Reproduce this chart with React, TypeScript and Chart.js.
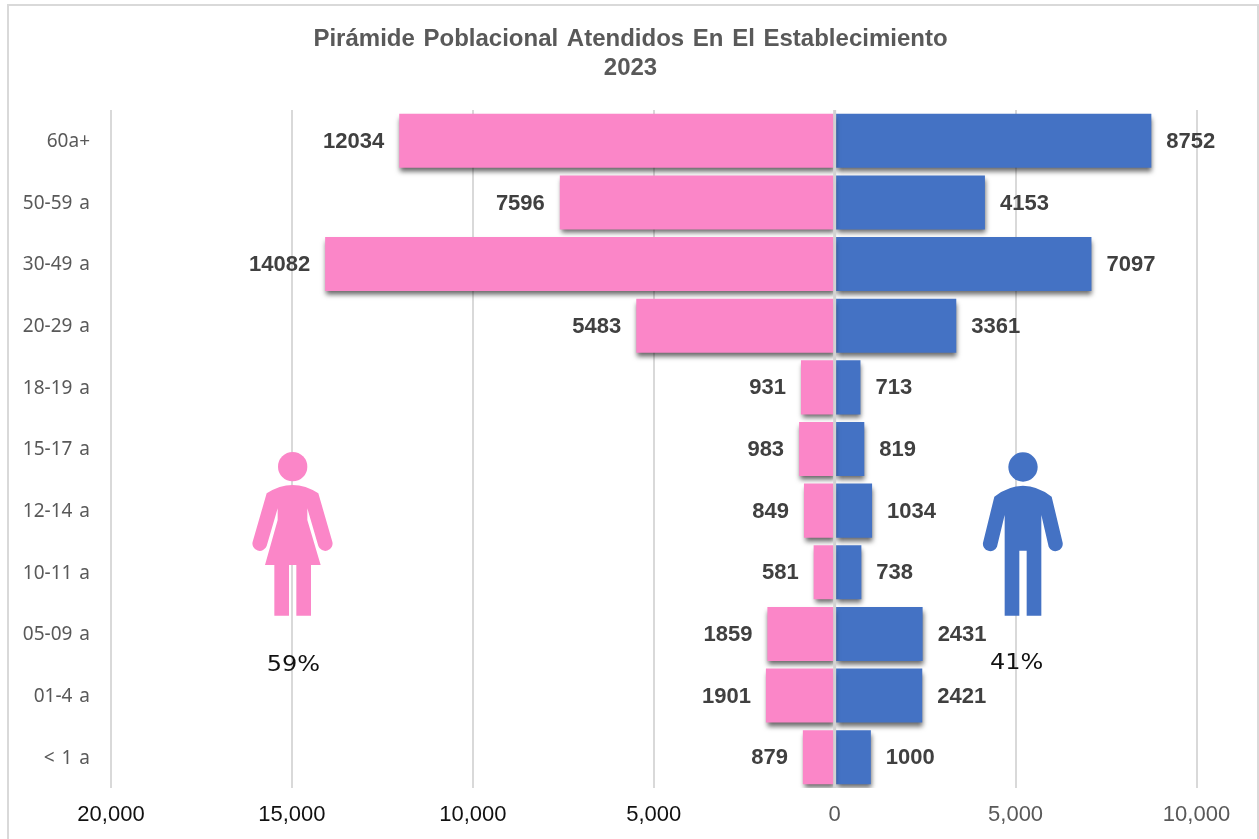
import React, { useEffect, useRef } from "react";
import { Chart, registerables } from "chart.js";

Chart.register(...registerables);

const categories = ["60a+", "50-59 a", "30-49 a", "20-29 a", "18-19 a", "15-17 a", "12-14 a", "10-11 a", "05-09 a", "01-4 a", "< 1 a"];
const mujeres = [12034, 7596, 14082, 5483, 931, 983, 849, 581, 1859, 1901, 879];
const hombres = [8752, 4153, 7097, 3361, 713, 819, 1034, 738, 2431, 2421, 1000];
const titleLines = ["Pirámide Poblacional Atendidos En El Establecimiento", "2023"];
const shareMujeres = "59%";
const shareHombres = "41%";

const PINK = "#FB86C8";
const BLUE = "#4472C4";
const GRID = "#D9D9D9";
const SANS = '"Liberation Sans", Arial, sans-serif';

const pyramidPlugin = {
  id: "pyramid",
  afterLayout(chart: any) {
    // centre the title on the whole canvas, not on the padded layout box
    if (chart.titleBlock) {
      chart.titleBlock.left = 0;
      chart.titleBlock.right = chart.width;
    }
  },
  beforeDraw(chart: any) {
    chart.ctx.wordSpacing = "2px";
  },
  beforeDatasetsDraw(chart: any) {
    const c = chart.ctx;
    c.save();
    c.shadowColor = "rgba(0,0,0,0.6)";
    c.shadowBlur = 5;
    c.shadowOffsetX = 1;
    c.shadowOffsetY = 4;
  },
  afterDatasetsDraw(chart: any) {
    const c = chart.ctx;
    c.restore();
    const { top, bottom } = chart.chartArea;
    const x0 = chart.scales.x.getPixelForValue(0);
    c.save();
    c.strokeStyle = "#D2D2D2";
    c.lineWidth = 3;
    c.beginPath();
    c.moveTo(x0, top);
    c.lineTo(x0, bottom);
    c.stroke();
    c.font = `bold 22px ${SANS}`;
    c.fillStyle = "#404040";
    c.textBaseline = "middle";
    chart.data.datasets.forEach((ds: any, di: number) => {
      const meta = chart.getDatasetMeta(di);
      const left = di === 0;
      c.textAlign = left ? "right" : "left";
      meta.data.forEach((bar: any, i: number) => {
        const raw = Math.abs(ds.data[i]);
        c.fillText(String(raw), bar.x + (left ? -15 : 15), bar.y + 1);
      });
    });
    c.restore();
  },
};

export default function App() {
  const ref = useRef<HTMLCanvasElement>(null);

  useEffect(() => {
    const chart = new Chart(ref.current!, {
      type: "bar",
      data: {
        labels: categories,
        datasets: [
          { label: "Mujeres", data: mujeres.map((v) => -v), backgroundColor: PINK },
          { label: "Hombres", data: hombres, backgroundColor: BLUE },
        ],
      },
      options: {
        indexAxis: "y",
        animation: false,
        responsive: false,
        layout: { padding: { left: 0, right: 63.5, top: 0, bottom: 0 } },
        datasets: { bar: { barPercentage: 0.877, categoryPercentage: 1 } },
        plugins: {
          legend: { display: false },
          tooltip: { enabled: false },
          title: {
            display: true,
            text: titleLines,
            color: "#595959",
            font: { family: SANS, size: 24, weight: "bold", lineHeight: 1.2 },
            padding: { top: 25, bottom: 27.4 },
          },
        },
        scales: {
          x: {
            type: "linear",
            min: -20000,
            max: 10000,
            grid: { color: GRID, lineWidth: 2, drawTicks: false },
            border: { display: false },
            afterFit(scale: any) {
              scale.height = 51;
            },
            ticks: {
              stepSize: 5000,
              padding: 14,
              maxRotation: 0,
              font: { family: SANS, size: 22 },
              color: (ctx: any) => (ctx.tick && ctx.tick.value < 0 ? "#111111" : "#595959"),
              callback: (v: any) => Math.abs(Number(v)).toLocaleString("en-US"),
            },
          },
          y: {
            type: "category",
            stacked: true,
            grid: { display: false, drawTicks: false },
            border: { display: false },
            afterFit(scale: any) {
              scale.width = 110;
            },
            ticks: {
              padding: 21,
              labelOffset: 1,
              autoSkip: false,
              font: { family: '"Noto Sans", sans-serif', size: 19 },
              color: "#595959",
            },
          },
        },
      },
      plugins: [pyramidPlugin],
    } as any);
    return () => chart.destroy();
  }, []);

  return (
    <div style={{ position: "absolute", left: 0, top: 0, width: 1259, height: 839, overflow: "hidden", background: "#fff" }}>
      <canvas ref={ref} width={1259} height={839} style={{ position: "absolute", left: 1, top: 0, display: "block" }} />
      <div
        style={{
          position: "absolute",
          left: 7,
          top: 4,
          width: 1248,
          height: 900,
          border: `2px solid ${GRID}`,
          pointerEvents: "none",
        }}
      />
      <svg width={150} height={240} viewBox="0 0 450 720" style={{ position: "absolute", left: 220, top: 440 }}>
        <circle cx={218} cy={80} r={44} fill={PINK} />
        <path
          fill={PINK}
          d="M140 160 Q218 110 295 160 L337 305 A22 22 0 0 1 295 318 L262 205 L262 240 L302 375 L273 375 L273 527 L229 527 L229 375 L207 375 L207 527 L163 527 L163 375 L135 375 L173 240 L173 205 L140 318 A22 22 0 0 1 98 305 Z"
        />
        <text x={140} y={692} fontFamily="DejaVu Sans" fontSize={66} textLength={160} lengthAdjust="spacingAndGlyphs" fill="#111">
          {shareMujeres}
        </text>
      </svg>
      <svg width={150} height={240} viewBox="0 0 450 720" style={{ position: "absolute", left: 960, top: 440 }}>
        <circle cx={189} cy={81} r={44} fill={BLUE} />
        <path
          fill={BLUE}
          d="M103 170 Q189 105 275 170 L308 308 A22 22 0 0 1 266 320 L244 225 L244 527 L200 527 L200 332 L178 332 L178 527 L134 527 L134 225 L111 320 A22 22 0 0 1 69 308 Z"
        />
        <text x={90} y={686} fontFamily="DejaVu Sans" fontSize={66} textLength={160} lengthAdjust="spacingAndGlyphs" fill="#111">
          {shareHombres}
        </text>
      </svg>
    </div>
  );
}
